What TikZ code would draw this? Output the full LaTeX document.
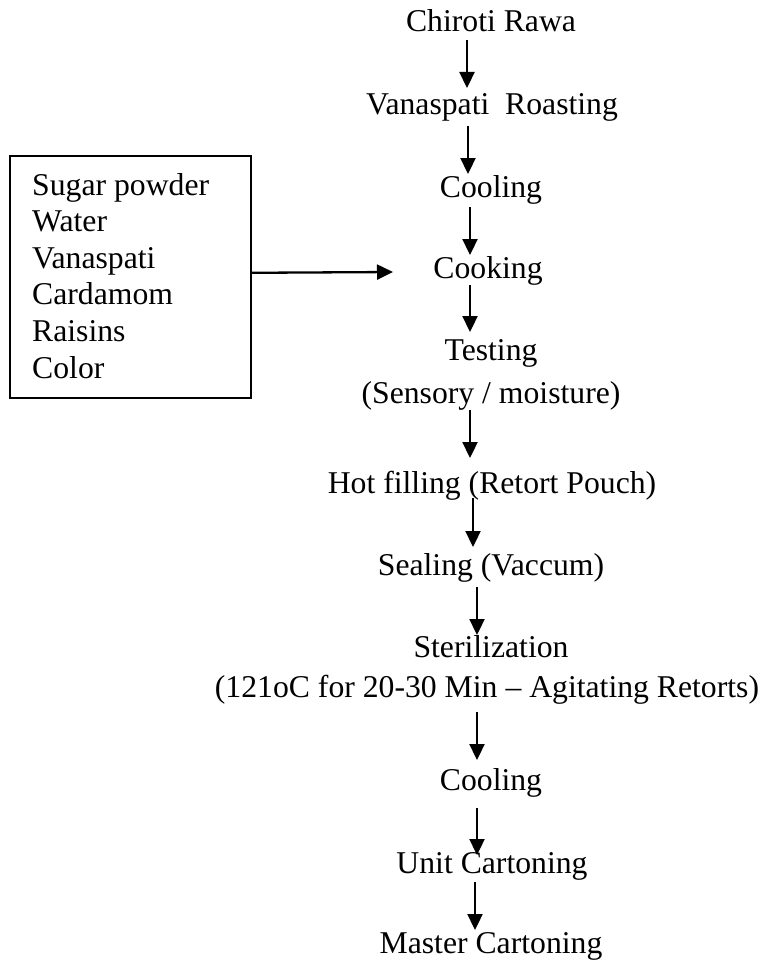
\documentclass[tikz,border=0pt]{standalone}
\usepackage{fontspec}
\setmainfont{Liberation Serif}
\usetikzlibrary{arrows.meta,calc}
\begin{document}
\begin{tikzpicture}[x=1pt,y=-1pt,
  every node/.style={font=\fontsize{31.7}{36.6}\selectfont, inner sep=0pt},
  stepnode/.style={anchor=base},
  arr/.style={line width=2.3pt, -{Triangle[length=16pt,width=15pt]}}]
\useasboundingbox (0,0) rectangle (768,963);
% main chain
\node[stepnode] (n1) at (491,32) {Chiroti Rawa};
\node[stepnode] (n2) at (492,115) {Vanaspati\ \ Roasting};
\node[stepnode] (n3) at (491,197) {Cooling};
\node[stepnode] (n4) at (488,278) {Cooking};
\node[stepnode] (n5) at (491,360) {Testing};
\node[stepnode] (n5b) at (491,403) {(Sensory / moisture)};
\node[stepnode] (n6) at (492,493) {Hot filling (Retort Pouch)};
\node[stepnode] (n7) at (491,575) {Sealing (Vaccum)};
\node[stepnode] (n8) at (491,657) {Sterilization};
\node[stepnode] (n8b) at (487,697) {(121oC for 20-30 Min -- Agitating Retorts)};
\node[stepnode] (n9) at (491,790) {Cooling};
\node[stepnode] (n10) at (492,873) {Unit Cartoning};
\node[stepnode] (n11) at (491,953) {Master Cartoning};
% ingredient box
\node[draw, line width=1.6pt, minimum width=241, minimum height=242, anchor=north west] (box) at (9,155) {};
\node[anchor=base west, align=left] (ing) at (32,378) {Sugar powder\\Water\\Vanaspati\\Cardamom\\Raisins\\Color};
% arrows
\draw[arr] ($(n1.base)+(-24,8)$) -- ($(n2.base)+(-25,-27)$);
\draw[arr] ($(n2.base)+(-24,11)$) -- ($(n3.base)+(-23,-23)$);
\draw[arr] ($(n3.base)+(-21,10)$) -- ($(n4.base)+(-18,-23)$);
\draw[arr] ($(n4.base)+(-18,7)$) -- ($(n5.base)+(-21,-28)$);
\draw[arr] ($(n5b.base)+(-21,7)$) -- ($(n6.base)+(-22,-35)$);
\draw[arr] ($(n6.base)+(-19,5)$) -- ($(n7.base)+(-18,-28)$);
\draw[arr] ($(n7.base)+(-14,12)$) -- ($(n8.base)+(-14,-22)$);
\draw[arr] ($(n8b.base)+(-10,15)$) -- ($(n9.base)+(-14,-30)$);
\draw[arr] ($(n9.base)+(-14,18)$) -- ($(n10.base)+(-15,-18)$);
\draw[arr] ($(n10.base)+(-17,9)$) -- ($(n11.base)+(-16,-23)$);
\draw[arr] ([yshift=4pt]box.east) -- ($(n4.base)+(-95,-6)$);
\end{tikzpicture}
\end{document}
